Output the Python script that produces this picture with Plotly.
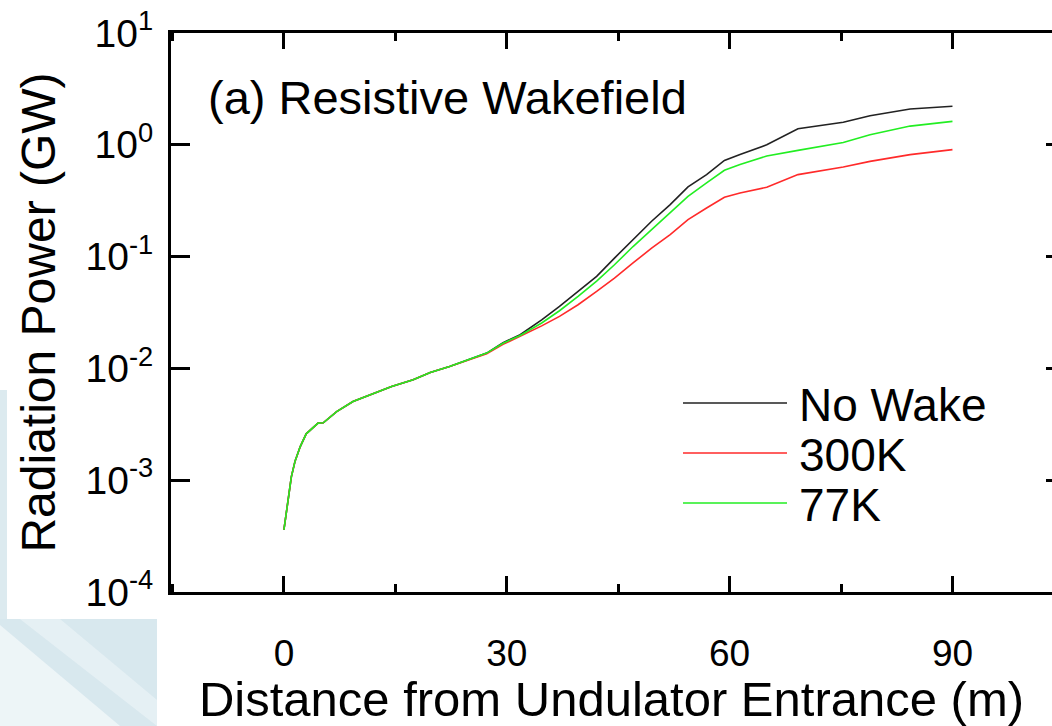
import plotly.graph_objects as go

# ---------------- data ----------------
distance_m = [0, 0.3, 0.6, 1.0, 1.5, 2.2, 3.0, 4.0, 4.6, 5.3, 7.1, 9.3, 11.6, 14.5,
              17.4, 19.7, 22.3, 24.8, 27.3, 29.5, 31.8, 34.7, 37.1, 39.6, 42.1,
              44.5, 47.0, 49.5, 52.0, 54.4, 56.9, 59.3, 61.4, 65.0, 69.2, 75.3,
              78.9, 84.3, 90.0]

no_wake_gw = [3.59e-4, 5.01e-4, 6.67e-4, 1.07e-3, 1.48e-3, 2.0e-3, 2.60e-3, 3.02e-3,
              3.24e-3, 3.26e-3, 4.11e-3, 5.06e-3, 5.81e-3, 6.89e-3, 7.91e-3, 9.18e-3,
              1.04e-2, 1.19e-2, 1.37e-2, 1.70e-2, 2.0e-2, 2.72e-2, 3.58e-2, 4.88e-2,
              6.65e-2, 9.70e-2, 0.142, 0.207, 0.292, 0.420, 0.541, 0.724, 0.817, 1.0,
              1.39, 1.59, 1.82, 2.09, 2.21]

k300_gw = [3.59e-4, 5.01e-4, 6.67e-4, 1.07e-3, 1.48e-3, 2.0e-3, 2.60e-3, 3.02e-3,
           3.24e-3, 3.26e-3, 4.11e-3, 5.06e-3, 5.81e-3, 6.89e-3, 7.91e-3, 9.18e-3,
           1.04e-2, 1.19e-2, 1.35e-2, 1.64e-2, 1.93e-2, 2.40e-2, 2.92e-2, 3.71e-2,
           4.88e-2, 6.43e-2, 8.77e-2, 0.119, 0.157, 0.214, 0.272, 0.339, 0.371, 0.417,
           0.541, 0.634, 0.711, 0.817, 0.906]

k77_gw = [3.59e-4, 5.01e-4, 6.67e-4, 1.07e-3, 1.48e-3, 2.0e-3, 2.60e-3, 3.02e-3,
          3.24e-3, 3.26e-3, 4.11e-3, 5.06e-3, 5.81e-3, 6.89e-3, 7.91e-3, 9.18e-3,
          1.04e-2, 1.19e-2, 1.37e-2, 1.68e-2, 1.97e-2, 2.55e-2, 3.28e-2, 4.41e-2,
          6.04e-2, 8.45e-2, 0.123, 0.174, 0.245, 0.346, 0.456, 0.592, 0.665, 0.794,
          0.891, 1.05, 1.23, 1.47, 1.62]

series_names = ["No Wake", "300K", "77K"]
series_colors = ["#222222", "#ff2a2a", "#22ee22"]

x_tick_vals = [0, 30, 60, 90]
x_tick_text = ["0", "30", "60", "90"]
y_tick_vals = [1e-4, 1e-3, 1e-2, 1e-1, 1e0, 1e1]
y_tick_text = ["10<sup>-4</sup>", "10<sup>-3</sup>", "10<sup>-2</sup>",
               "10<sup>-1</sup>", "10<sup>0</sup>", "10<sup>1</sup>"]

# ---------------- figure ----------------
W, H = 1052, 726
L, R, T, B = 171, 0, 33, 134
PW, PH = W - L - R, H - T - B
FONT = "Liberation Sans, Arial, sans-serif"


def px(xp):
    return (xp - L) / PW


def py(yp):
    return (H - B - yp) / PH


fig = go.Figure()
for ys, name, col in zip([no_wake_gw, k300_gw, k77_gw], series_names, series_colors):
    fig.add_trace(go.Scatter(x=distance_m, y=ys, mode="lines", name=name,
                             line=dict(color=col, width=1.6), showlegend=False))

# invisible trace to carry the right-hand tick axis
fig.add_trace(go.Scatter(x=distance_m, y=no_wake_gw, yaxis="y2", mode="lines",
                         line=dict(width=0), opacity=0, hoverinfo="skip",
                         showlegend=False))

shapes = []
# slide background pieces (light blue)
shapes.append(dict(type="rect", xref="paper", yref="paper", layer="below",
                   x0=px(0), x1=px(157), y0=py(726), y1=py(619),
                   fillcolor="#d8e8ee", line=dict(width=0)))
shapes.append(dict(type="rect", xref="paper", yref="paper", layer="below",
                   x0=px(0), x1=px(7), y0=py(619), y1=py(390),
                   fillcolor="#dceaef", line=dict(width=0)))
shapes.append(dict(type="path", xref="paper", yref="paper", layer="below",
                   path=f"M{px(0)},{py(625)} L{px(0)},{py(726)} L{px(120)},{py(726)} Z",
                   fillcolor="rgba(255,255,255,0.55)", line=dict(width=0)))
shapes.append(dict(type="path", xref="paper", yref="paper", layer="below",
                   path=f"M{px(20)},{py(619)} L{px(60)},{py(619)} L{px(157)},{py(700)} L{px(157)},{py(726)} Z",
                   fillcolor="rgba(255,255,255,0.35)", line=dict(width=0)))

# manual legend
legend_rows = [403, 453, 503]
annotations = []
for yrow, name, col in zip(legend_rows, series_names, series_colors):
    shapes.append(dict(type="line", xref="paper", yref="paper",
                       x0=px(683), x1=px(787), y0=py(yrow), y1=py(yrow),
                       line=dict(color=col, width=1.6)))
    annotations.append(dict(text=name, xref="paper", yref="paper",
                            x=px(797), y=py(yrow + 2), xanchor="left", yanchor="middle",
                            showarrow=False, font=dict(family=FONT, size=46, color="black")))

annotations.append(dict(text="(a) Resistive Wakefield", xref="paper", yref="paper",
                        x=px(206), y=py(98), xanchor="left", yanchor="middle",
                        showarrow=False, font=dict(family=FONT, size=47, color="black")))

fig.update_layout(
    width=W, height=H,
    margin=dict(l=L, r=R, t=T, b=B, pad=0),
    paper_bgcolor="white", plot_bgcolor="white",
    font=dict(family=FONT, color="black"),
    shapes=shapes, annotations=annotations,
    xaxis=dict(range=[-15.2, 103.4], tickvals=x_tick_vals, ticktext=x_tick_text,
               ticks="inside", ticklen=16, tickwidth=3, tickcolor="black",
               minor=dict(dtick=15, tick0=15, ticks="inside", ticklen=8,
                          tickwidth=3, tickcolor="black", showgrid=False),
               showline=True, linewidth=3, linecolor="black", mirror="ticks",
               showgrid=False, zeroline=False,
               tickfont=dict(family=FONT, size=37), ticklabelstandoff=27,
               title=dict(text="Distance from Undulator Entrance (m)",
                          font=dict(family=FONT, size=49), standoff=8)),
    yaxis=dict(type="log", range=[-4, 1], tickvals=y_tick_vals, ticktext=y_tick_text,
               ticks="inside", ticklen=19, tickwidth=3, tickcolor="black",
               showline=True, linewidth=3, linecolor="black",
               showgrid=False, zeroline=False,
               tickfont=dict(family=FONT, size=39), ticklabelstandoff=7,
               title=dict(text="Radiation Power (GW)",
                          font=dict(family=FONT, size=48), standoff=15)),
    yaxis2=dict(type="log", range=[-4, 1], tickvals=y_tick_vals, overlaying="y",
                side="right", ticks="inside", ticklen=6, tickwidth=3,
                tickcolor="black", showticklabels=False, showline=False,
                showgrid=False, zeroline=False),
)

fig.write_html("out.html", config={"displayModeBar": False},
               post_script="document.body.style.margin='0';")
